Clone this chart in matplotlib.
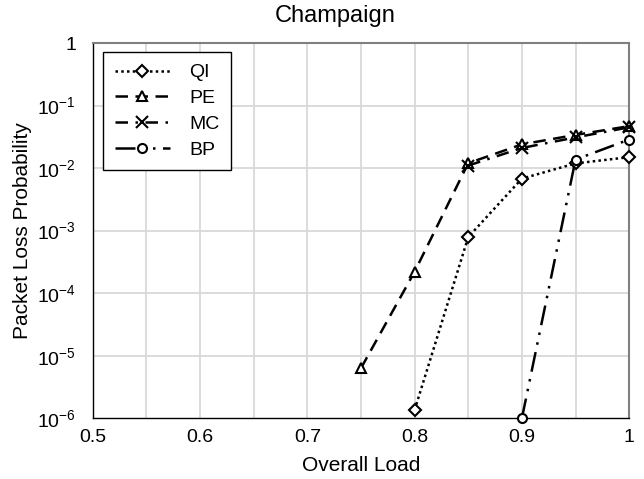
import matplotlib
matplotlib.use("Agg")
import matplotlib.pyplot as plt
from matplotlib.ticker import FixedLocator, FixedFormatter

plt.rcParams['font.family'] = ['Liberation Sans', 'DejaVu Sans']
plt.rcParams['mathtext.fontset'] = 'custom'
plt.rcParams['mathtext.rm'] = 'Liberation Sans'
plt.rcParams['mathtext.it'] = 'Liberation Sans'

# data
qi_x = [0.80, 0.85, 0.90, 0.95, 1.00]
qi_y = [1.35e-6, 7.9e-4, 6.8e-3, 1.19e-2, 1.5e-2]

pe_x = [0.75, 0.80, 0.85, 0.90, 0.95, 1.00]
pe_y = [6.3e-6, 2.2e-4, 1.2e-2, 2.4e-2, 3.4e-2, 4.7e-2]

mc_x = [0.85, 0.90, 0.95, 1.00]
mc_y = [1.1e-2, 2.1e-2, 3.1e-2, 4.5e-2]

bp_x = [0.90, 0.95, 1.00]
bp_y = [1.0e-6, 1.37e-2, 2.87e-2]

ytick_vals = [1e-6, 1e-5, 1e-4, 1e-3, 1e-2, 1e-1, 1]
ytick_labels = [r'$10^{-6}$', r'$10^{-5}$', r'$10^{-4}$', r'$10^{-3}$',
                r'$10^{-2}$', r'$10^{-1}$', '1']
xtick_vals = [0.5, 0.6, 0.7, 0.8, 0.9, 1.0]
xtick_labels = ['0.5', '0.6', '0.7', '0.8', '0.9', '1']
xgrid_vals = [0.55, 0.6, 0.65, 0.7, 0.75, 0.8, 0.85, 0.9, 0.95]

fig = plt.figure(figsize=(6.44, 4.79), dpi=100)
ax = fig.add_axes([0.144, 0.127, 0.833, 0.783])

for gx in xgrid_vals:
    ax.axvline(gx, color='#d9d9d9', lw=1.3, zorder=0)
for gy in ytick_vals[1:-1]:
    ax.axhline(gy, color='#d9d9d9', lw=1.3, zorder=0)

mk = dict(color='black', markerfacecolor='white', markeredgecolor='black',
          markeredgewidth=1.5, lw=1.8, clip_on=False, zorder=3)
ax.plot(qi_x, qi_y, linestyle=(0, (1, 1.3)), marker='D', markersize=6, label='QI', **mk)
ax.plot(pe_x, pe_y, linestyle=(0, (5, 3)), marker='^', markersize=7, label='PE', **mk)
ax.plot(mc_x, mc_y, linestyle=(0, (5, 3, 1, 3)), marker='x', markersize=8, label='MC', **mk)
ax.plot(bp_x, bp_y, linestyle=(0, (8, 3, 1, 3, 1, 3)), marker='o', markersize=6.5, label='BP', **mk)

ax.set_yscale('log')
ax.set_xlim(0.5, 1.0)
ax.set_ylim(1e-6, 1)
ax.yaxis.set_major_locator(FixedLocator(ytick_vals))
ax.yaxis.set_major_formatter(FixedFormatter(ytick_labels))
ax.yaxis.set_minor_locator(FixedLocator([]))
ax.xaxis.set_major_locator(FixedLocator(xtick_vals))
ax.xaxis.set_major_formatter(FixedFormatter(xtick_labels))
ax.tick_params(length=0, labelsize=14)
ax.tick_params(axis='y', pad=12)
ax.tick_params(axis='x', pad=8)

for s in ['top', 'right']:
    ax.spines[s].set_color('#808080')
    ax.spines[s].set_linewidth(1.5)
for s in ['left', 'bottom']:
    ax.spines[s].set_color('black')
    ax.spines[s].set_linewidth(1.0)

ax.set_xlabel('Overall Load', fontsize=15, labelpad=7)
ax.set_ylabel('Packet Loss Probability', fontsize=15, labelpad=4)
fig.text(335 / 644, 1 - 16 / 479, 'Champaign', fontsize=17, ha='center', va='center')

leg = ax.legend(loc='upper left', bbox_to_anchor=(0.02, 0.976), fontsize=14,
                frameon=True, fancybox=False, handlelength=2.8, handletextpad=1.0,
                labelspacing=0.42, borderpad=0.6, borderaxespad=0)
leg.get_frame().set_edgecolor('black')
leg.get_frame().set_linewidth(1.0)
leg.get_frame().set_alpha(1)

fig.savefig('out.png', dpi=100)
